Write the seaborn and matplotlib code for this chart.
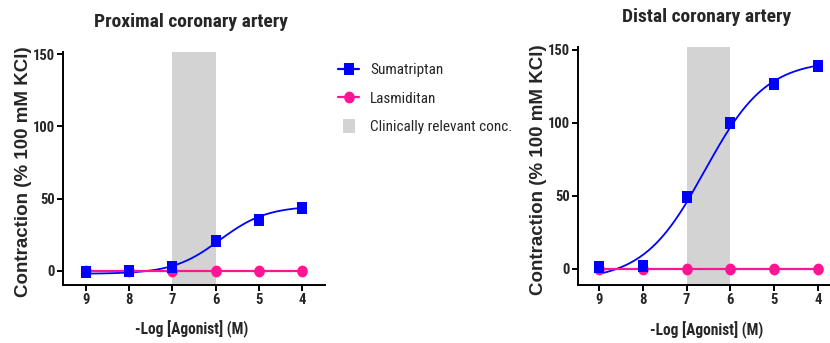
import numpy as np
import pandas as pd
import matplotlib
matplotlib.use("Agg")
import matplotlib.pyplot as plt
from matplotlib import font_manager
from matplotlib.path import Path
from matplotlib.lines import Line2D
import seaborn as sns

# ---------------- data ----------------
log_agonist = [9, 8, 7, 6, 5, 4]
x_ticks = [9, 8, 7, 6, 5, 4]
y_ticks = [0, 50, 100, 150]

prox_sumatriptan = [-0.5, 0.0, 3.0, 20.5, 35.0, 43.5]
prox_lasmiditan = [0.0, 0.0, 0.0, 0.0, 0.0, 0.0]
dist_sumatriptan = [1.0, 2.0, 49.5, 100.0, 126.5, 139.0]
dist_lasmiditan = [0.0, 0.0, 0.0, 0.0, 0.0, 0.0]

# fitted sigmoid (bottom, top, pEC50, hill)
prox_fit = dict(bottom=-2.0, top=45.0, pec50=5.9, hill=0.8)
dist_fit = dict(bottom=-8.0, top=143.0, pec50=6.58, hill=0.62)

clin_range = (7, 6)

titles = ["Proximal coronary artery", "Distal coronary artery"]
xlabel = "-Log [Agonist] (M)"
ylabel = "Contraction (% 100 mM KCl)"
legend_labels = ["Sumatriptan", "Lasmiditan", "Clinically relevant conc."]

BLUE = "#0000FF"
PINK = "#FF1493"
GRAY = "#D3D3D3"

# ---------------- fonts ----------------
sns.set_style("ticks")
plt.rcParams["font.family"] = ["Liberation Sans", "DejaVu Sans"]
COND = ["Roboto Condensed", "Liberation Sans", "DejaVu Sans"]


def sigmoid(x, bottom, top, pec50, hill):
    return bottom + (top - bottom) / (1 + 10 ** (hill * (x - pec50)))


# slightly tall markers (the reference is horizontally compressed)
sq_marker = Path([(-0.42, -0.5), (0.42, -0.5), (0.42, 0.5), (-0.42, 0.5), (-0.42, -0.5)],
                 [Path.MOVETO, Path.LINETO, Path.LINETO, Path.LINETO, Path.CLOSEPOLY])
t = np.linspace(0, 2 * np.pi, 40)
circ_marker = Path(np.column_stack([0.45 * np.cos(t), 0.5 * np.sin(t)]))

W, H = 830, 343
fig = plt.figure(figsize=(W / 100, H / 100), dpi=100)


def px_axes(left, right, top, bottom):
    return fig.add_axes([left / W, (H - bottom) / H, (right - left) / W, (bottom - top) / H])


panels = [
    dict(ax=px_axes(63, 325, 52, 285), ylim=(-9.7, 151.4), xlim=(9.53, 3.47),
         suma=prox_sumatriptan, lasm=prox_lasmiditan, fit=prox_fit,
         title_xy=(191, 22), xlabel_xy=(192, 329), ylabel_xy=(24, 172)),
    dict(ax=px_axes(578, 842, 47, 285), ylim=(-11, 152), xlim=(9.48, 3.45),
         suma=dist_sumatriptan, lasm=dist_lasmiditan, fit=dist_fit,
         title_xy=(707, 17), xlabel_xy=(707, 330), ylabel_xy=(538, 170)),
]

tick_font = font_manager.FontProperties(family=COND, weight="bold", size=10.5)

for p, title in zip(panels, titles):
    ax = p["ax"]
    ax.axvspan(clin_range[0], clin_range[1], color=GRAY, lw=0, zorder=0)

    xs = np.linspace(9, 4, 200)
    curve = pd.DataFrame({"x": xs, "y": sigmoid(xs, **p["fit"])})
    sns.lineplot(data=curve, x="x", y="y", ax=ax, color=BLUE, lw=1.3, zorder=2)

    df_l = pd.DataFrame({"x": log_agonist, "y": p["lasm"]})
    sns.lineplot(data=df_l, x="x", y="y", ax=ax, color=PINK, lw=1.6,
                 marker=circ_marker, markersize=8.5, markeredgewidth=0, zorder=3)

    df_s = pd.DataFrame({"x": log_agonist, "y": p["suma"]})
    sns.scatterplot(data=df_s, x="x", y="y", ax=ax, color=BLUE, marker=sq_marker,
                    s=8.5 ** 2, linewidth=0, zorder=4)

    ax.set_xlim(*p["xlim"])
    ax.set_ylim(*p["ylim"])
    ax.set_xticks(x_ticks)
    ax.set_yticks(y_ticks)
    ax.set_xlabel("")
    ax.set_ylabel("")
    for s in ["top", "right"]:
        ax.spines[s].set_visible(False)
    for s in ["left", "bottom"]:
        ax.spines[s].set_linewidth(1.4)
        ax.spines[s].set_color("black")
    ax.tick_params(axis="both", length=4, width=1.4, color="black", direction="out", pad=2)
    for lab in ax.get_xticklabels() + ax.get_yticklabels():
        lab.set_fontproperties(tick_font)
    ax.set_facecolor("none")
    ax.grid(False)

    fig.text(p["title_xy"][0] / W, 1 - p["title_xy"][1] / H, title, ha="center", va="center",
             fontsize=14, fontweight="bold", family=COND)
    fig.text(p["xlabel_xy"][0] / W, 1 - p["xlabel_xy"][1] / H, xlabel, ha="center", va="center",
             fontsize=11.2, fontweight="bold", family=COND)
    fig.text(p["ylabel_xy"][0] / W, 1 - p["ylabel_xy"][1] / H, ylabel, ha="center", va="center",
             rotation=90, fontsize=13.5, fontweight="bold")

handles = [
    Line2D([], [], color=BLUE, lw=1.6, marker=sq_marker, markersize=8.5, markeredgewidth=0),
    Line2D([], [], color=PINK, lw=1.6, marker=circ_marker, markersize=8.5, markeredgewidth=0),
    Line2D([], [], color=GRAY, lw=0, marker=sq_marker, markersize=10, markeredgewidth=0),
]
fig.legend(handles, legend_labels, loc="upper left", bbox_to_anchor=(338 / W, 1 - 63 / H),
           frameon=False, handlelength=1.4, handletextpad=0.7, labelspacing=0.95,
           borderpad=0, borderaxespad=0,
           prop=font_manager.FontProperties(family=COND, size=11))

fig.savefig("out.png", dpi=100)
